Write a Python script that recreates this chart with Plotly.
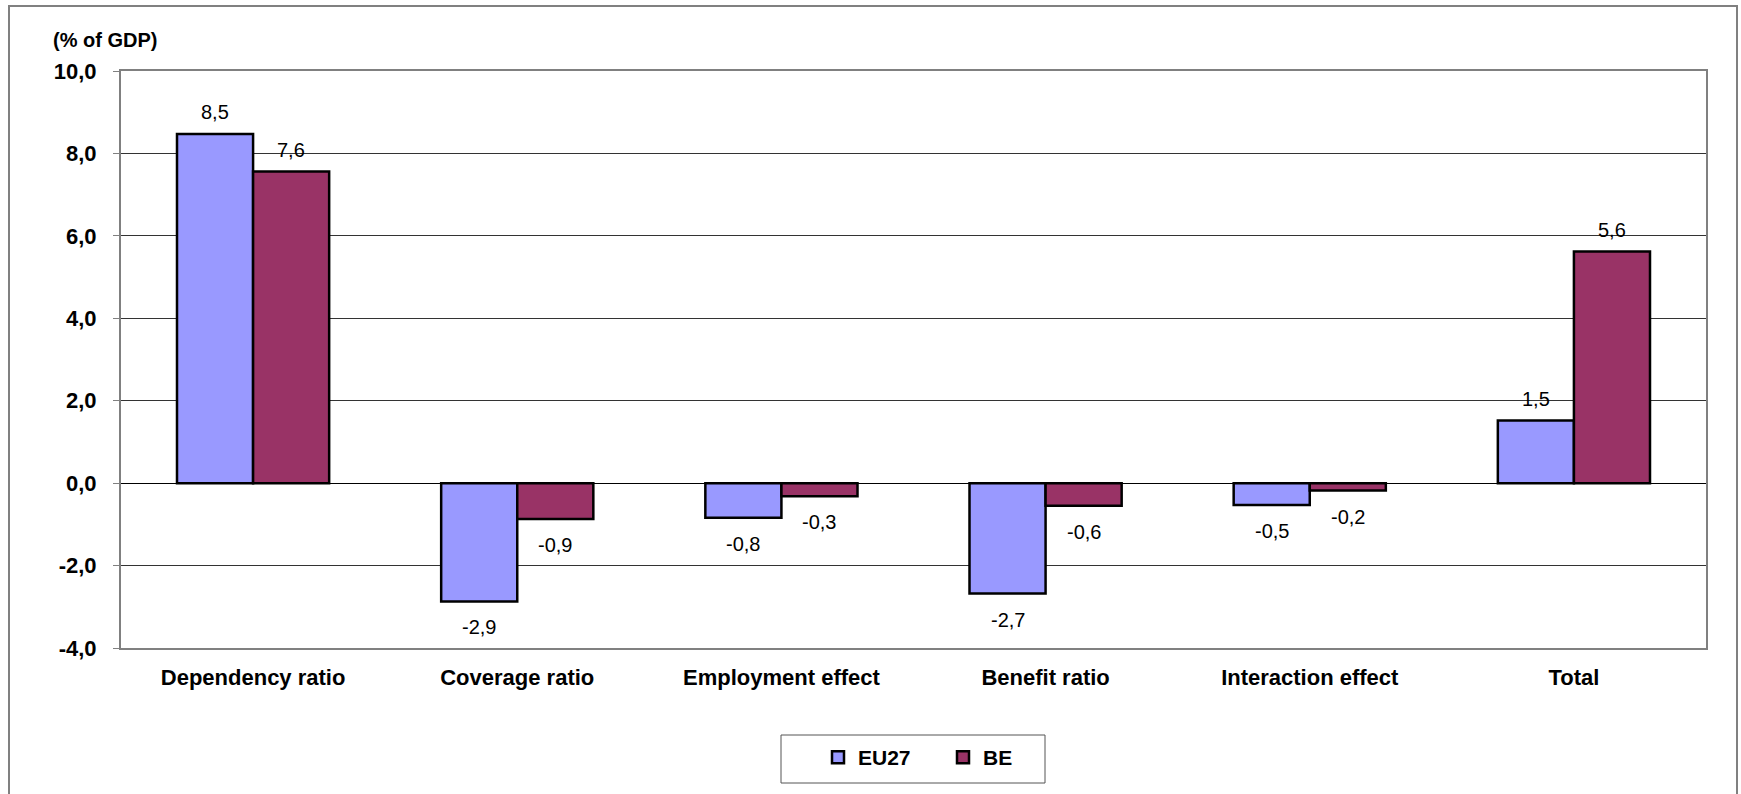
import plotly.graph_objects as go

categories = ["Dependency ratio", "Coverage ratio", "Employment effect",
              "Benefit ratio", "Interaction effect", "Total"]
eu27 = [8.47, -2.87, -0.84, -2.68, -0.53, 1.52]
be = [7.56, -0.87, -0.32, -0.55, -0.18, 5.62]
series_names = ["EU27", "BE"]
series_colors = ["#9999FF", "#993366"]
y_ticks = [-4, -2, 0, 2, 4, 6, 8, 10]
y_tick_labels = ["-4,0", "-2,0", "0,0", "2,0", "4,0", "6,0", "8,0", "10,0"]
y_title = "(% of GDP)"

W, H = 1741, 794
ML, MR, MT, MB = 121, 35, 71, 146
PW = W - ML - MR
PH = H - MT - MB

def px_x(p):
    return (p - ML) / PW

def px_y(p):
    return (H - MB - p) / PH

FONT = "Arial, Liberation Sans, sans-serif"

fig = go.Figure()
for name, vals, col in zip(series_names, [eu27, be], series_colors):
    fig.add_trace(go.Bar(
        name="<b>" + name + "</b>", x=categories, y=vals,
        marker=dict(color=col, line=dict(color="#000000", width=2.5)),
        hoverinfo="x+y",
    ))

# data labels
bar_w_px = PW / len(categories) * (1 - 0.424) / 2
for vals, sign in [(eu27, -1), (be, 1)]:
    for c, v in zip(categories, vals):
        fig.add_annotation(
            x=c, y=v, xref="x", yref="y",
            text=f"{v:.1f}".replace(".", ","),
            showarrow=False, xshift=sign * bar_w_px / 2,
            yshift=22 if v >= 0 else -26,
            font=dict(family=FONT, size=20, color="#000000"),
            xanchor="center", yanchor="middle",
        )

fig.add_annotation(
    x=px_x(51), y=px_y(40), xref="paper", yref="paper",
    text=y_title, showarrow=False,
    xanchor="left", yanchor="middle",
    font=dict(family=FONT, size=20, color="#000000", weight="bold"),
)

# outer chart frame
fig.add_shape(type="rect", xref="paper", yref="paper",
              x0=px_x(9), x1=px_x(1737), y0=px_y(830), y1=px_y(6),
              line=dict(color="#808080", width=2), fillcolor="rgba(0,0,0,0)",
              layer="below")
# legend frame
fig.add_shape(type="rect", xref="paper", yref="paper",
              x0=px_x(781), x1=px_x(1045), y0=px_y(783), y1=px_y(735),
              line=dict(color="#555555", width=1), fillcolor="rgba(0,0,0,0)")

fig.update_layout(
    width=W, height=H,
    margin=dict(l=ML, r=MR, t=MT, b=MB, autoexpand=False),
    paper_bgcolor="#FFFFFF", plot_bgcolor="#FFFFFF",
    separators=", ",
    barmode="group", bargap=0.424, bargroupgap=0,
    font=dict(family=FONT, color="#000000"),
    showlegend=True,
    legend=dict(orientation="h", x=px_x(818), xanchor="left",
                y=px_y(737), yanchor="top",
                font=dict(family=FONT, size=21, color="#000000"),
                bgcolor="rgba(0,0,0,0)", borderwidth=0,
                entrywidth=80, entrywidthmode="pixels",
                itemclick=False, itemdoubleclick=False),
    xaxis=dict(type="category", showgrid=False, zeroline=False,
               showline=True, linecolor="#808080", linewidth=2, mirror=True,
               ticks="", tickfont=dict(family=FONT, size=22, color="#000000", weight="bold"),
               ticklabelstandoff=9),
    xaxis2=dict(overlaying="x", anchor="free", position=4 / 14, side="bottom",
                range=[-0.5, 5.5], tickvals=[0.5, 1.5, 2.5, 3.5, 4.5],
                ticks="outside", ticklen=6, tickcolor="#808080", tickwidth=1,
                showticklabels=False, showgrid=False, zeroline=False, showline=False),
    yaxis=dict(range=[-4, 10], tickvals=y_ticks, ticktext=y_tick_labels,
               showgrid=True, gridcolor="#333333", gridwidth=1,
               zeroline=True, zerolinecolor="#000000", zerolinewidth=1,
               showline=True, linecolor="#808080", linewidth=2, mirror=True,
               ticks="outside", ticklen=6, tickcolor="#808080",
               tickfont=dict(family=FONT, size=22, color="#000000", weight="bold"),
               ticklabelstandoff=12),
)

fig.write_html("out.html")
